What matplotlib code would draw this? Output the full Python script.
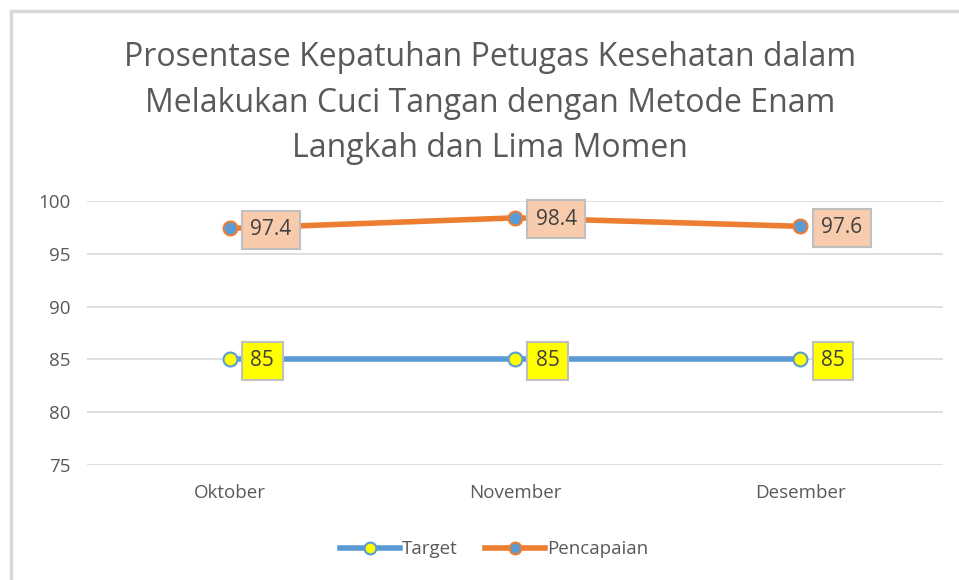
import matplotlib.pyplot as plt
from matplotlib.patches import Rectangle

# data
bulan = ['Oktober', 'November', 'Desember']
target = [85, 85, 85]
pencapaian = [97.4, 98.4, 97.6]
judul = 'Prosentase Kepatuhan Petugas Kesehatan dalam\nMelakukan Cuci Tangan dengan Metode Enam\nLangkah dan Lima Momen'

plt.rcParams['font.family'] = ['Open Sans', 'DejaVu Sans']
abu = '#595959'

fig = plt.figure(figsize=(9.59, 5.8), dpi=100)
ax = fig.add_axes([0.0907, 0.1983, 0.8926, 0.4552])

x = range(len(bulan))
ax.plot(x, target, color='#5B9BD5', lw=4, marker='o', ms=10,
        mfc='#FFFF00', mec='#5B9BD5', mew=1.5, label='Target', zorder=3)
ax.plot(x, pencapaian, color='#ED7D31', lw=4, marker='o', ms=10,
        mfc='#5B9BD5', mec='#ED7D31', mew=1.5, label='Pencapaian', zorder=3)

# data labels
for i, v in enumerate(target):
    ax.annotate(f'{v:g}', (i, v), xytext=(15, -1), textcoords='offset points',
                ha='left', va='center', fontsize=15, color='#404040',
                bbox=dict(boxstyle='square,pad=0.4', fc='#FFFF00', ec='#BFBFBF', lw=1.5),
                zorder=5)
for i, v in enumerate(pencapaian):
    ax.annotate(f'{v:g}', (i, v), xytext=(15, -1), textcoords='offset points',
                ha='left', va='center', fontsize=15, color='#404040',
                bbox=dict(boxstyle='square,pad=0.4', fc='#F8CBAD', ec='#BFBFBF', lw=1.5),
                zorder=5)

ax.set_xlim(-0.5, 2.5)
ax.set_ylim(75, 100)
ax.set_yticks([75, 80, 85, 90, 95, 100])
ax.set_xticks(list(x))
ax.set_xticklabels(bulan)
ax.tick_params(axis='both', length=0, labelsize=13.5, colors=abu)
ax.tick_params(axis='x', pad=14)
ax.tick_params(axis='y', pad=12)
ax.grid(axis='y', color='#D9D9D9', lw=1.2)
ax.set_axisbelow(True)
for s in ax.spines.values():
    s.set_visible(False)

fig.text(0.511, 0.822, judul, ha='center', va='center', fontsize=23,
         color=abu, linespacing=1.5)

leg = fig.legend(loc='center', bbox_to_anchor=(0.515, 0.053), ncol=2, frameon=False,
                 fontsize=13.5, handlelength=3.2, columnspacing=1.5, handletextpad=0.1,
                 markerscale=0.85)
for t in leg.get_texts():
    t.set_color(abu)

# chart border (left and top visible)
top = 1 - 11 / 580
fig.patches.append(Rectangle((11 / 959, top - 2), 2, 2, transform=fig.transFigure,
                             fill=False, ec='#D9D9D9', lw=2.5))

fig.savefig('out.png', dpi=100)
